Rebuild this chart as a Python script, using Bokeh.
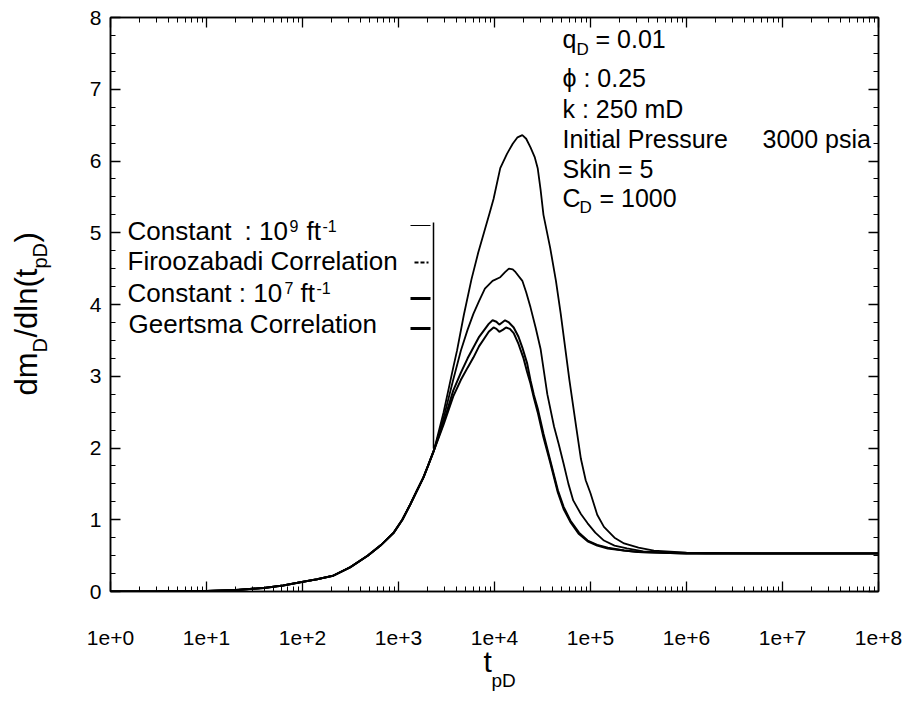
import math
from bokeh.plotting import figure
from bokeh.models import (Range1d, FixedTicker, CustomJSTickFormatter, LinearAxis,
                          LogAxis)
from bokeh.core.properties import value
from bokeh.embed import file_html
from bokeh.resources import INLINE

# ---------------- data (x given as log10 of t_pD) ----------------
rise_log_t = [0.0, 0.5, 1.0, 1.3, 1.6, 1.8, 1.98, 2.15, 2.32, 2.5, 2.68, 2.82, 2.95,
              3.04, 3.125, 3.19, 3.26, 3.31, 3.37]
rise_dm = [0.0, 0.002, 0.008, 0.02, 0.05, 0.085, 0.13, 0.17, 0.22, 0.34, 0.50, 0.65, 0.82,
           1.0, 1.22, 1.40, 1.59, 1.76, 1.97]

c9_log_t = [3.47, 3.57, 3.61, 3.68, 3.76, 3.83, 3.89, 3.95, 3.99, 4.06, 4.13, 4.19, 4.24,
            4.29, 4.33, 4.375, 4.42, 4.45, 4.48, 4.51, 4.58, 4.64, 4.69, 4.78, 4.85, 4.90,
            4.95, 5.00, 5.07, 5.14, 5.25, 5.35, 5.5, 5.66, 6.0, 7.0, 8.0]
c9_dm = [2.50, 3.12, 3.36, 3.85, 4.35, 4.72, 5.00, 5.28, 5.47, 5.90, 6.10, 6.24, 6.33,
         6.36, 6.31, 6.19, 6.05, 5.90, 5.60, 5.25, 4.79, 4.33, 3.87, 2.95, 2.30, 1.85,
         1.55, 1.37, 1.07, 0.90, 0.75, 0.67, 0.61, 0.57, 0.54, 0.53, 0.53]

fz_log_t = [3.47, 3.57, 3.65, 3.72, 3.78, 3.84, 3.90, 3.98, 4.06, 4.11, 4.15, 4.19, 4.22,
            4.29, 4.33, 4.375, 4.43, 4.48, 4.55, 4.62, 4.67, 4.72, 4.77, 4.82, 4.90, 4.97,
            5.05, 5.14, 5.25, 5.38, 5.55, 5.7, 6.2, 7.0, 8.0]
fz_dm = [2.42, 2.95, 3.36, 3.65, 3.87, 4.05, 4.22, 4.33, 4.38, 4.45, 4.50, 4.49, 4.45,
         4.33, 4.17, 3.96, 3.67, 3.38, 2.75, 2.30, 2.05, 1.78, 1.50, 1.27, 1.08, 0.95,
         0.82, 0.71, 0.64, 0.60, 0.56, 0.55, 0.53, 0.53, 0.53]

c7_log_t = [3.47, 3.57, 3.65, 3.72, 3.78, 3.84, 3.89, 3.94, 3.98, 4.02, 4.05, 4.08, 4.11,
            4.15, 4.20, 4.25, 4.29, 4.34, 4.375, 4.41, 4.45, 4.51, 4.58, 4.66, 4.72, 4.79,
            4.88, 4.97, 5.07, 5.18, 5.35, 5.5, 6.0, 7.0, 8.0]
c7_dm = [2.36, 2.80, 3.05, 3.25, 3.40, 3.55, 3.64, 3.73, 3.78, 3.76, 3.72, 3.75, 3.78,
         3.75, 3.68, 3.55, 3.40, 3.18, 2.94, 2.74, 2.55, 2.20, 1.83, 1.41, 1.18, 0.99,
         0.82, 0.71, 0.65, 0.61, 0.57, 0.55, 0.53, 0.53, 0.53]

gt_log_t = [3.47, 3.57, 3.65, 3.72, 3.78, 3.84, 3.89, 3.94, 3.99, 4.02, 4.05, 4.09, 4.12,
            4.16, 4.20, 4.25, 4.30, 4.34, 4.375, 4.41, 4.45, 4.51, 4.58, 4.66, 4.72, 4.79,
            4.88, 4.97, 5.07, 5.18, 5.35, 5.5, 6.0, 7.0, 8.0]
gt_dm = [2.33, 2.72, 2.95, 3.12, 3.26, 3.42, 3.52, 3.62, 3.68, 3.66, 3.62, 3.65, 3.68,
         3.66, 3.60, 3.45, 3.26, 3.06, 2.90, 2.70, 2.50, 2.15, 1.80, 1.38, 1.15, 0.97,
         0.80, 0.70, 0.64, 0.60, 0.57, 0.55, 0.53, 0.53, 0.53]

x_decades = [0, 1, 2, 3, 4, 5, 6, 7, 8]
y_ticks = [0, 1, 2, 3, 4, 5, 6, 7, 8]

FONT = "Liberation Sans"

# ---------------- figure ----------------
p = figure(width=911, height=704, x_axis_type="log", output_backend="svg",
           toolbar_location=None, x_range=Range1d(1, 1e8), y_range=Range1d(0, 8),
           min_border_left=110, min_border_right=33, min_border_top=17,
           min_border_bottom=113)
p.grid.visible = False
p.outline_line_color = "black"
p.outline_line_width = 1.5
p.background_fill_color = "white"
p.border_fill_color = "white"

x_major = [10.0 ** d for d in x_decades]
x_minor = [k * 10.0 ** d for d in x_decades[:-1] for k in range(2, 10)]
y_minor = [i * 0.25 for i in range(0, 33)]

xtick = FixedTicker(ticks=x_major, minor_ticks=x_minor)
ytick = FixedTicker(ticks=y_ticks, minor_ticks=y_minor)
blank = CustomJSTickFormatter(code="return '';")

def style_axis(ax, labels=True):
    ax.axis_line_color = "black"
    ax.axis_line_width = 1.5
    ax.major_tick_in = 10
    ax.major_tick_out = 0
    ax.minor_tick_in = 5
    ax.minor_tick_out = 0
    ax.major_tick_line_color = "black"
    ax.minor_tick_line_color = "black"
    ax.major_tick_line_width = 1.3
    ax.minor_tick_line_width = 1.0
    if labels:
        ax.major_label_text_font = FONT
        ax.major_label_text_font_size = "21px"
        ax.major_label_text_color = "black"
    else:
        ax.formatter = blank
        ax.major_label_text_font_size = "1px"
        ax.major_label_standoff = 0

xa = p.xaxis[0]
xa.ticker = xtick
xa.formatter = CustomJSTickFormatter(code="return '1e+' + Math.round(Math.log10(tick));")
style_axis(xa)
xa.major_label_standoff = 39

ya = p.yaxis[0]
ya.ticker = ytick
style_axis(ya)
ya.major_label_standoff = 9

top = LogAxis(ticker=FixedTicker(ticks=x_major, minor_ticks=x_minor))
style_axis(top, labels=False)
p.add_layout(top, "above")
right = LinearAxis(ticker=FixedTicker(ticks=y_ticks, minor_ticks=y_minor))
style_axis(right, labels=False)
p.add_layout(right, "right")

# ---------------- curves ----------------
curves = [
    (c9_log_t, c9_dm, 1.8),
    (fz_log_t, fz_dm, 1.8),
    (c7_log_t, c7_dm, 2.0),
    (gt_log_t, gt_dm, 2.0),
]
for lt, dm, w in curves:
    xs = [10.0 ** v for v in rise_log_t + lt]
    ys = rise_dm + dm
    p.line(xs, ys, line_color="black", line_width=w)

# ---------------- decorations (positions in canvas pixels) ----------------
FX0, FX1, FY0, FY1 = 110, 878, 17, 591
def dx(px):
    return 10 ** ((px - FX0) / ((FX1 - FX0) / 8.0))
def dy(py):
    return (FY1 - py) / ((FY1 - FY0) / 8.0)

def put(text, px, py, size, rotated=False):
    # px, py: wanted baseline start; correct for the renderer's baseline offset
    shift = 0.37 * size
    if rotated:
        px -= shift
    else:
        py -= shift
    p.text(x=[dx(px)], y=[dy(py)], text=[text], text_font=value(FONT),
           text_font_size=value(f"{size}px"), text_color="black",
           text_baseline="alphabetic", text_align="left",
           angle=(math.pi / 2 if rotated else 0.0), level="overlay")

# legend
p.segment(x0=[dx(433)], y0=[dy(222)], x1=[dx(433)], y1=[dy(448)],
          line_color="black", line_width=1.5)
p.segment(x0=[dx(410)], y0=[dy(225)], x1=[dx(430)], y1=[dy(225)],
          line_color="black", line_width=1.2)
p.segment(x0=[dx(414)], y0=[dy(262)], x1=[dx(428)], y1=[dy(262)],
          line_color="black", line_width=1.8, line_dash="4 2")
p.segment(x0=[dx(410)], y0=[dy(298)], x1=[dx(430)], y1=[dy(298)],
          line_color="black", line_width=3)
p.segment(x0=[dx(410)], y0=[dy(328)], x1=[dx(430)], y1=[dy(328)],
          line_color="black", line_width=3)

put("Constant", 127, 240, 26)
put(": 10", 244, 240, 26)
put("9", 289, 231, 16)
put("ft", 306, 240, 26)
put("-1", 322, 231, 16)
put("Firoozabadi Correlation", 127, 270, 26)
put("Constant : 10", 127, 302, 26)
put("7", 284, 293, 16)
put("ft", 300, 302, 26)
put("-1", 316, 293, 16)
put("Geertsma Correlation", 128, 333, 26)

# parameters
put("q", 562, 48, 25)
put("D", 576, 55, 17)
put("= 0.01", 595, 48, 25)
put("\u03d5 : 0.25", 562, 87, 25)
put("k : 250 mD", 562, 118, 25)
put("Initial Pressure", 562, 148, 25)
put("3000 psia", 762, 148, 25)
put("Skin = 5", 562, 178, 25)
put("C", 562, 207, 25)
put("D", 579, 213, 17)
put("= 1000", 599, 207, 25)

# axis titles
put("t", 483, 672, 30)
put("pD", 491, 687, 19)
put("dm", 37, 395, 31, rotated=True)
put("D", 47, 352, 20, rotated=True)
put("/dln(t", 37, 337, 31, rotated=True)
put("pD", 47, 268, 20, rotated=True)
put(")", 37, 242, 31, rotated=True)

open("out.html", "w").write(file_html(p, INLINE))
